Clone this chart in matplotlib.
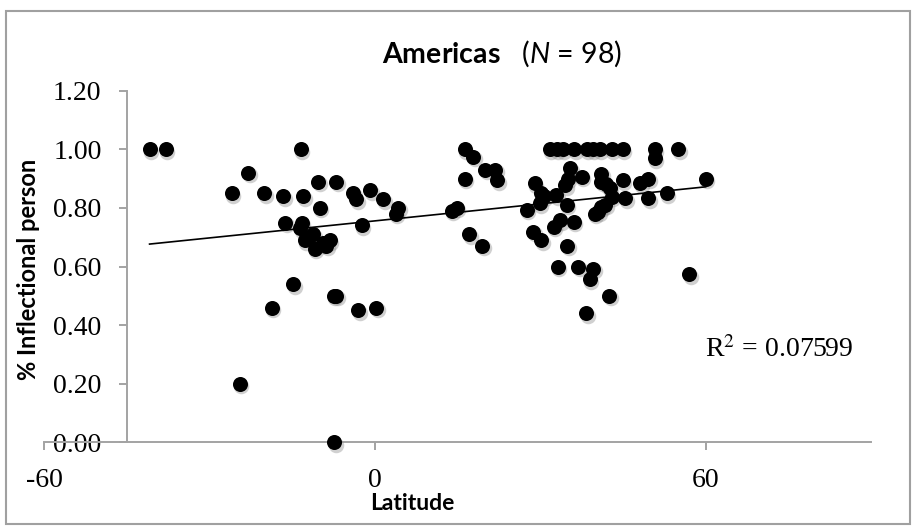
import numpy as np
import matplotlib
matplotlib.use("Agg")
import matplotlib.pyplot as plt
from matplotlib.patches import Rectangle
from matplotlib.transforms import offset_copy

# ---- data ----
latitude = [
    -40.9, -38.0, -13.5, -23.0, -26.0, -20.1, -16.6, -13.0, -10.3, -7.0,
    -10.0, -3.9, -3.4, -0.9, 1.5, 4.2, 3.8, -16.3, -13.3, -13.6,
    -2.4, -11.2, -12.7, -10.9, -8.2, -8.8, -14.8, -18.7, -7.5, -7.0,
    -3.0, 0.2, -24.5, -7.4, -12.0, -9.5,
    16.3, 17.8, 31.7, 34.1, 36.2, 38.4, 40.8, 43.0, 45.0, 50.8,
    50.8, 55.0, 16.3, 20.0, 21.8, 22.2, 13.9, 14.8, 17.1, 19.5,
    57.0, 60.0, 35.4, 37.5, 41.1, 41.1, 42.6, 43.0, 45.0, 45.4,
    48.1, 49.6, 49.6, 52.9, 39.9, 41.1, 29.0, 30.2, 29.9, 32.9,
    34.5, 34.8, 27.5, 32.4, 33.6, 36.1, 40.5, 28.7, 30.2, 34.9,
    33.2, 36.9, 39.6, 39.0, 42.5, 38.3, 33.0, 39.5, 30.6, 35.0,
    42.0, 41.8,
]
pct_inflectional = [
    1.00, 1.00, 1.00, 0.92, 0.85, 0.85, 0.84, 0.84, 0.89, 0.89,
    0.80, 0.85, 0.83, 0.86, 0.83, 0.80, 0.78, 0.75, 0.75, 0.73,
    0.74, 0.71, 0.69, 0.66, 0.69, 0.67, 0.54, 0.46, 0.50, 0.50,
    0.45, 0.46, 0.20, 0.00, 0.70, 0.68,
    1.00, 0.975, 1.00, 1.00, 1.00, 1.00, 1.00, 1.00, 1.00, 1.00,
    0.97, 1.00, 0.90, 0.93, 0.93, 0.895, 0.79, 0.80, 0.71, 0.67,
    0.574, 0.90, 0.935, 0.906, 0.917, 0.889, 0.867, 0.838, 0.895, 0.833,
    0.884, 0.90, 0.833, 0.85, 0.78, 0.804, 0.884, 0.85, 0.816, 0.844,
    0.878, 0.81, 0.793, 0.736, 0.757, 0.753, 0.787, 0.719, 0.69, 0.67,
    0.60, 0.60, 0.592, 0.556, 0.50, 0.44, 1.00, 1.00, 0.84, 0.90,
    0.88, 0.81,
]
x_ticks = [-60, 0, 60]
y_ticks = [0.0, 0.2, 0.4, 0.6, 0.8, 1.0, 1.2]
title_region = "Americas"
n_label = "98"
r_squared = "0.07599"
x_label = "Latitude"
y_label = "% Inflectional person"

W, H = 916, 531
fig = plt.figure(figsize=(W / 100, H / 100), dpi=100)
fig.patch.set_facecolor("white")

x0, x1 = 44.3, 871.0
y0, y1 = 442.3, 90.7
ax = fig.add_axes([x0 / W, 1 - y0 / H, (x1 - x0) / W, (y0 - y1) / H])
ax.set_xlim(-60, 90)
ax.set_ylim(0, 1.2)

axis_gray = "#a3a3a3"
for s in ["top", "right"]:
    ax.spines[s].set_visible(False)
ax.spines["left"].set_position(("data", -45))
for s in ["left", "bottom"]:
    ax.spines[s].set_color(axis_gray)
    ax.spines[s].set_linewidth(1.4)

ax.set_xticks(x_ticks)
ax.set_xticklabels([str(t) for t in x_ticks])
ax.set_yticks(y_ticks)
ax.set_yticklabels([f"{t:.2f}" for t in y_ticks])
ax.tick_params(direction="out", length=5.8, width=1.4, color=axis_gray,
               labelsize=20, pad=12.5, labelcolor="black")
for lab in ax.get_xticklabels() + ax.get_yticklabels():
    lab.set_fontfamily("Liberation Serif")

lat = np.array(latitude)
val = np.array(pct_inflectional)

# drop shadow for markers
shadow_tr = offset_copy(ax.transData, fig=fig, x=1.5, y=-2.5, units="dots")
ax.scatter(lat, val, s=125, color="#7a7a7a", alpha=0.35, linewidths=0,
           transform=shadow_tr, clip_on=False, zorder=3)
ax.scatter(lat, val, s=117, color="black", linewidths=0, clip_on=False, zorder=4)

# linear trend line
slope, intercept = np.polyfit(lat, val, 1)
xs = np.array([lat.min(), lat.max()])
ax.plot(xs, slope * xs + intercept, color="black", lw=1.2, zorder=5)

ax.text(59.9, 0.315, "R$^2$ = " + r_squared, fontsize=20,
        fontfamily="Liberation Serif", math_fontfamily="stix",
        ha="left", va="center")

# titles
plt.rcParams["mathtext.fontset"] = "custom"
plt.rcParams["mathtext.bf"] = "Lato:bold"
plt.rcParams["mathtext.it"] = "Lato:italic"
plt.rcParams["mathtext.rm"] = "Lato"
fig.text(501.5 / W, 1 - 54 / H,
         r"$\mathbf{" + title_region + r"}$   ($\mathit{N}$ = " + n_label + ")",
         fontsize=20.5, fontfamily="Lato", math_fontfamily="custom",
         ha="center", va="center")
fig.text(29 / W, 1 - 269 / H, y_label, rotation=90, fontsize=17,
         fontweight="bold", fontfamily="Lato", ha="center", va="center")
fig.text(412 / W, 1 - 503 / H, x_label, fontsize=16.5, fontweight="bold",
         fontfamily="Lato", ha="center", va="center")

# chart frame
fig.add_artist(Rectangle((6 / W, 1 - 524 / H), (910 - 6) / W, (524 - 10.7) / H,
                         transform=fig.transFigure, fill=False,
                         edgecolor="#a0a0a0", lw=1.5))

fig.savefig("out.png", dpi=100)
